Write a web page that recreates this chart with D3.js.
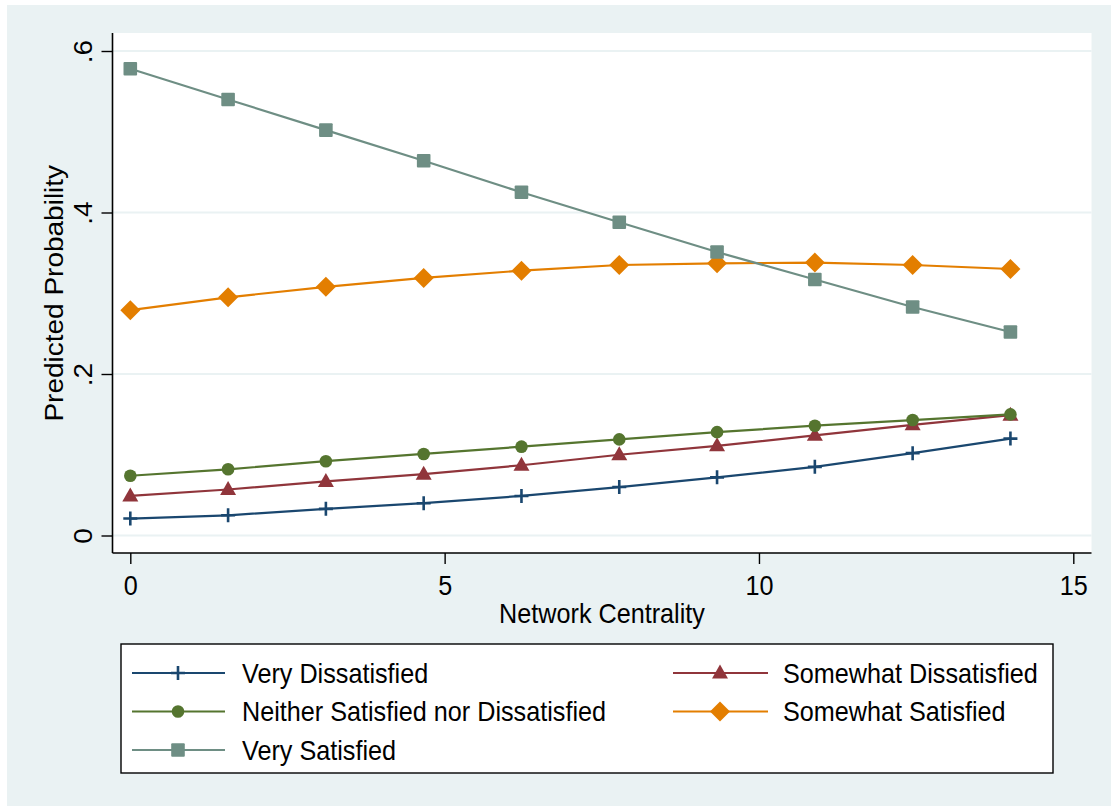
<!DOCTYPE html>
<html>
<head>
<meta charset="utf-8">
<script src="https://cdn.jsdelivr.net/npm/d3@7"></script>
<style>
  html, body { margin: 0; padding: 0; background: #ffffff; }
  svg { display: block; font-family: "Liberation Sans", Arial, sans-serif; }
</style>
</head>
<body>
<svg id="chart" width="1111" height="806"></svg>
<script>
// Network centrality values at which probabilities were predicted
const centrality = [0, 1.5556, 3.1111, 4.6667, 6.2222, 7.7778, 9.3333, 10.8889, 12.4444, 14];

// Predicted probabilities per outcome category
const veryDissatisfied     = [0.021, 0.025, 0.033, 0.040, 0.049, 0.060, 0.072, 0.085, 0.102, 0.120];
const somewhatDissatisfied = [0.049, 0.057, 0.067, 0.076, 0.087, 0.100, 0.111, 0.124, 0.137, 0.149];
const neitherSatisfied     = [0.074, 0.082, 0.092, 0.101, 0.110, 0.119, 0.128, 0.136, 0.143, 0.150];
const somewhatSatisfied    = [0.279, 0.295, 0.308, 0.319, 0.328, 0.335, 0.337, 0.338, 0.335, 0.330];
const verySatisfied        = [0.578, 0.540, 0.502, 0.464, 0.425, 0.388, 0.351, 0.317, 0.283, 0.252];

const seriesNames = [
  "Very Dissatisfied",
  "Somewhat Dissatisfied",
  "Neither Satisfied nor Dissatisfied",
  "Somewhat Satisfied",
  "Very Satisfied"
];
const seriesValues = [veryDissatisfied, somewhatDissatisfied, neitherSatisfied, somewhatSatisfied, verySatisfied];

const xTicks = [0, 5, 10, 15];
const yTicks = [0, 0.2, 0.4, 0.6];
const yTickLabels = ["0", ".2", ".4", ".6"];

const xTitle = "Network Centrality";
const yTitle = "Predicted Probability";

// Styling per series
const colors  = ["#1a476f", "#90353b", "#55752f", "#e37e00", "#6e8e84"];
const symbols = ["plus", "triangle", "circle", "diamond", "square"];

// Text is drawn slightly condensed horizontally
const FONT = 28;
const SQUEEZE = 0.9;

const svg = d3.select("#chart");

// Graph region and plot region
svg.append("rect").attr("x", 7).attr("y", 5).attr("width", 1104).attr("height", 801).attr("fill", "#eaf2f3");
const plot = { left: 112.5, right: 1091.5, top: 33, bottom: 553 };
svg.append("rect")
  .attr("x", plot.left).attr("y", plot.top)
  .attr("width", plot.right - plot.left).attr("height", plot.bottom - plot.top)
  .attr("fill", "#ffffff");

const x = d3.scaleLinear().domain([0, 15]).range([130.3, 1073.3]);
const y = d3.scaleLinear().domain([0, 0.6]).range([535.5, 51]);

// Horizontal grid lines
svg.append("g").selectAll("line").data(yTicks).join("line")
  .attr("x1", plot.left).attr("x2", plot.right)
  .attr("y1", d => y(d)).attr("y2", d => y(d))
  .attr("stroke", "#eaf2f3").attr("stroke-width", 2);

// Axes
const xAxis = svg.append("g").attr("transform", `translate(0,${plot.bottom})`)
  .call(d3.axisBottom(x).tickValues(xTicks).tickSize(11).tickSizeOuter(0).tickFormat(d3.format("d")));
xAxis.select(".domain").attr("d", `M${plot.left},0H${plot.right}`).attr("stroke", "#000").attr("stroke-width", 1.6);
xAxis.selectAll(".tick line").attr("stroke", "#000").attr("stroke-width", 1.4);
xAxis.selectAll(".tick text")
  .attr("x", 0).attr("y", 0).attr("dy", 0)
  .attr("transform", `translate(0,42) scale(${SQUEEZE},1)`)
  .attr("font-size", FONT).attr("font-family", "Liberation Sans, Arial, sans-serif").attr("fill", "#000");

const yAxis = svg.append("g").attr("transform", `translate(${plot.left},0)`)
  .call(d3.axisLeft(y).tickValues(yTicks).tickSize(11).tickSizeOuter(0).tickFormat((d, i) => yTickLabels[i]));
yAxis.select(".domain").attr("d", `M0,${plot.top}V${plot.bottom}`).attr("stroke", "#000").attr("stroke-width", 1.6);
yAxis.selectAll(".tick line").attr("stroke", "#000").attr("stroke-width", 1.4);
yAxis.selectAll(".tick text")
  .attr("x", 0).attr("dy", 0)
  .attr("transform", `translate(-21,0) scale(${SQUEEZE},1) rotate(-90)`)
  .attr("text-anchor", "middle")
  .attr("font-size", FONT).attr("font-family", "Liberation Sans, Arial, sans-serif").attr("fill", "#000");

// Axis titles
svg.append("text")
  .attr("transform", `translate(602,623) scale(${SQUEEZE},1)`)
  .attr("text-anchor", "middle").attr("font-size", FONT).attr("fill", "#000")
  .text(xTitle);
svg.append("text")
  .attr("transform", `translate(63,${(y(0) + y(0.6)) / 2}) scale(${SQUEEZE},1) rotate(-90)`)
  .attr("text-anchor", "middle").attr("font-size", FONT).attr("fill", "#000")
  .text(yTitle);

// Marker drawing
function drawMarker(g, type, color) {
  if (type === "plus") {
    g.append("path").attr("d", "M-7,0H7M0,-7V7")
      .attr("stroke", color).attr("stroke-width", 2.6).attr("fill", "none");
  } else if (type === "triangle") {
    g.append("path").attr("d", "M0,-8.5L8,5.5L-8,5.5Z").attr("fill", color);
  } else if (type === "circle") {
    g.append("circle").attr("r", 6.3).attr("fill", color);
  } else if (type === "diamond") {
    g.append("path").attr("d", "M0,-10L10,0L0,10L-10,0Z").attr("fill", color);
  } else if (type === "square") {
    g.append("rect").attr("x", -6.8).attr("y", -6.8).attr("width", 13.6).attr("height", 13.6)
      .attr("rx", 1).attr("fill", color);
  }
}

const line = d3.line().x(d => x(d[0])).y(d => y(d[1]));

seriesValues.forEach((vals, si) => {
  const pts = centrality.map((c, i) => [c, vals[i]]);
  const g = svg.append("g");
  g.append("path").attr("d", line(pts))
    .attr("fill", "none").attr("stroke", colors[si]).attr("stroke-width", 2.2);
  pts.forEach(p => {
    const m = g.append("g").attr("transform", `translate(${x(p[0])},${y(p[1])})`);
    drawMarker(m, symbols[si], colors[si]);
  });
});

// Legend
const legend = svg.append("g");
legend.append("rect")
  .attr("x", 121).attr("y", 644).attr("width", 932).attr("height", 129)
  .attr("fill", "#ffffff").attr("stroke", "#000").attr("stroke-width", 1.4);

const colX = [{ l1: 132, l2: 225, m: 178, t: 242 }, { l1: 673, l2: 768, m: 720, t: 783 }];
const rowY = [673, 711.5, 750];
seriesNames.forEach((name, i) => {
  const c = colX[i % 2];
  const ry = rowY[Math.floor(i / 2)];
  const g = legend.append("g");
  g.append("line").attr("x1", c.l1).attr("x2", c.l2).attr("y1", ry).attr("y2", ry)
    .attr("stroke", colors[i]).attr("stroke-width", 2.2);
  const m = g.append("g").attr("transform", `translate(${c.m},${ry})`);
  drawMarker(m, symbols[i], colors[i]);
  g.append("text")
    .attr("transform", `translate(${c.t},${ry + 9.5}) scale(${SQUEEZE},1)`)
    .attr("font-size", FONT).attr("fill", "#000")
    .text(name);
});
</script>
</body>
</html>
